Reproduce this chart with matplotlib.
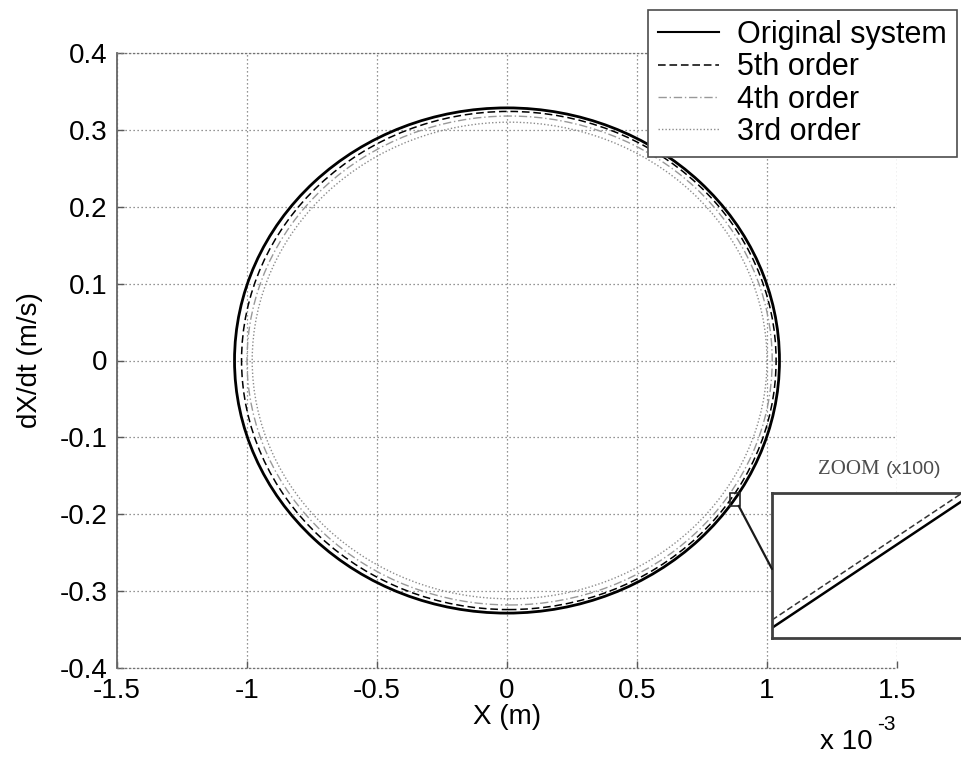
import matplotlib
matplotlib.use("Agg")
import matplotlib.pyplot as plt
from matplotlib.patches import Ellipse, Rectangle, ConnectionPatch
from matplotlib.lines import Line2D

plt.rcParams["font.family"] = ["Liberation Sans", "DejaVu Sans"]

W, H = 961, 758

# phase portraits (x in units of 1e-3 m)
curve_labels = ["Original system", "5th order", "4th order", "3rd order"]
center_x = [0.0, 0.007, 0.010, 0.010]
center_y = [0.0, 0.0, 0.0, 0.0]
half_x = [1.048, 1.028, 1.010, 0.990]
half_y = [0.3286, 0.3240, 0.3180, 0.3100]

curve_colors = ["black", "black", "0.6", "0.55"]
curve_styles = ["-", (0, (5, 2.5)), (0, (6, 2, 1, 2)), (0, (1, 1.5))]
curve_widths = [2.0, 1.1, 1.0, 1.0]

x_ticks = [-1.5, -1, -0.5, 0, 0.5, 1, 1.5]
x_ticklabels = ["-1.5", "-1", "-0.5", "0", "0.5", "1", "1.5"]
y_ticks = [-0.4, -0.3, -0.2, -0.1, 0, 0.1, 0.2, 0.3, 0.4]
y_ticklabels = ["-0.4", "-0.3", "-0.2", "-0.1", "0", "0.1", "0.2", "0.3", "0.4"]

# zoom window marker on the curve
zoom_center = (0.876, -0.181)
zoom_size = (0.040, 0.016)

# what the x100 inset shows (inset axes fraction)
inset_x = [0.0, 1.0]
inset_solid_y = [0.070, 0.990]
inset_dashed_y = [0.124, 1.045]

fig = plt.figure(figsize=(W / 100, H / 100), dpi=100)
ax = fig.add_axes([117 / W, (H - 668) / H, (897 - 117) / W, (668 - 53) / H])

for i in range(len(curve_labels)):
    e = Ellipse((center_x[i], center_y[i]), 2 * half_x[i], 2 * half_y[i],
                fill=False, edgecolor=curve_colors[i], linestyle=curve_styles[i],
                linewidth=curve_widths[i], zorder=3 + (3 - i))
    ax.add_patch(e)

ax.set_xlim(-1.5, 1.5)
ax.set_ylim(-0.4, 0.4)
ax.set_xticks(x_ticks)
ax.set_xticklabels(x_ticklabels)
ax.set_yticks(y_ticks)
ax.set_yticklabels(y_ticklabels)
ax.tick_params(direction="in", length=5, width=1, color="0.35",
               labelsize=20, pad=7)
ax.grid(True, color="0.45", linestyle=(0, (1, 2.2)), linewidth=0.9)

ax.spines["left"].set_color("0.4")
ax.spines["left"].set_linewidth(1.3)
for s in ["top", "bottom", "right"]:
    ax.spines[s].set_linestyle((0, (1, 2.2)))
    ax.spines[s].set_color("0.45")
    ax.spines[s].set_linewidth(0.9)
ax.spines["right"].set_visible(False)

ax.set_xlabel("X (m)", fontsize=20, labelpad=0)
ax.set_ylabel("dX/dt (m/s)", fontsize=20, labelpad=12)

fig.text(820 / W, 1 - 742 / H, "x 10", fontsize=20, va="center", ha="left")
fig.text(877 / W, 1 - 724 / H, "-3", fontsize=15, va="center", ha="left")

# small zoom square
sq = Rectangle((zoom_center[0] - zoom_size[0] / 2, zoom_center[1] - zoom_size[1] / 2),
               zoom_size[0], zoom_size[1], fill=False, edgecolor="0.15",
               linewidth=1.2, zorder=10)
ax.add_patch(sq)

# legend
handles = [Line2D([], [], color=curve_colors[i], linestyle=curve_styles[i],
                  linewidth=curve_widths[i] if i else 1.5) for i in range(4)]
leg = fig.legend(handles, curve_labels, loc="upper right",
                 bbox_to_anchor=(957 / W, 1 - 10 / H), fontsize=22,
                 frameon=True, fancybox=False, framealpha=1, edgecolor="0.3",
                 handlelength=2.0, handletextpad=0.6, labelspacing=0.08,
                 borderpad=0.32, borderaxespad=0)
leg.get_frame().set_linewidth(1.2)

# inset
ins = fig.add_axes([772 / W, (H - 638) / H, 200 / W, (638 - 493) / H])
ins.plot(inset_x, inset_solid_y, color="black", linewidth=1.8)
ins.plot(inset_x, inset_dashed_y, color="0.2", linestyle=(0, (4, 2)), linewidth=1.1)
ins.set_xlim(0, 1)
ins.set_ylim(0, 1)
ins.set_xticks([])
ins.set_yticks([])
for s in ins.spines.values():
    s.set_color("0.25")
    s.set_linewidth(2)

con = ConnectionPatch(xyA=(zoom_center[0] + zoom_size[0] / 2 - 0.005,
                           zoom_center[1] - zoom_size[1] / 2),
                      coordsA="data", axesA=ax,
                      xyB=(0, (638 - 569) / (638 - 493)), coordsB="axes fraction",
                      axesB=ins, color="0.1", linewidth=1.6)
fig.add_artist(con)

fig.text(818 / W, 1 - 470 / H, "ZOOM", family="Liberation Serif",
         fontsize=15, color="0.3", va="center", ha="left")
fig.text(886 / W, 1 - 470 / H, "(x100)", fontsize=14, color="0.3",
         va="center", ha="left")

fig.savefig("out.png", dpi=100, facecolor="white")
